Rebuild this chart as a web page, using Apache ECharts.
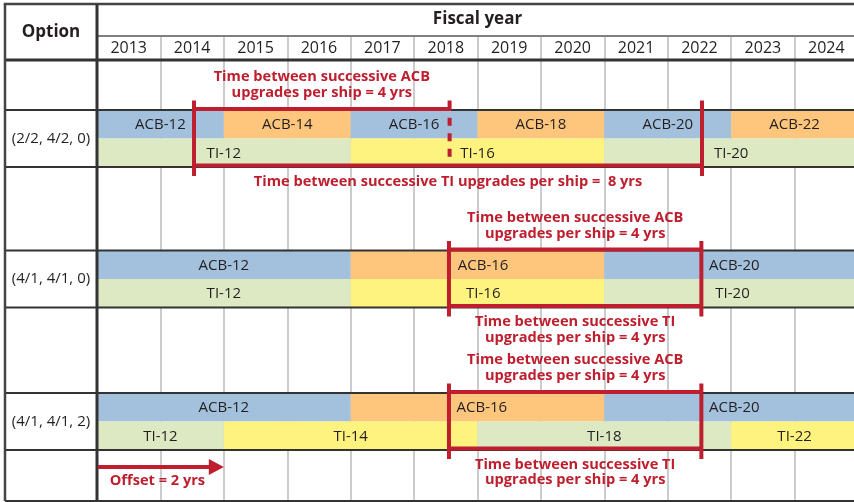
<!DOCTYPE html>
<html><head><meta charset="utf-8">
<script src="https://cdn.jsdelivr.net/npm/echarts@6/dist/echarts.min.js"></script>
<style>html,body{margin:0;padding:0;background:#fff}#c{width:854px;height:502px}</style>
</head><body><div id="c"></div>
<script>
// ---- data ----
const years = ['2013','2014','2015','2016','2017','2018','2019','2020','2021','2022','2023','2024'];
const options = ['(2/2, 4/2, 0)', '(4/1, 4/1, 0)', '(4/1, 4/1, 2)'];
const acbStarts = [[2013,2015,2017,2019,2021,2023],[2013,2017,2021],[2013,2017,2021]];
const acbNames = [['ACB-12','ACB-14','ACB-16','ACB-18','ACB-20','ACB-22'],['ACB-12','ACB-16','ACB-20'],['ACB-12','ACB-16','ACB-20']];
const acbLabelAt = [[null,null,null,null,null,null],[null,2018.69,2022.65],[null,2018.67,2022.65]];
const tiStarts = [[2013,2017,2021],[2013,2017,2021],[2013,2015,2019,2023]];
const tiNames = [['TI-12','TI-16','TI-20'],['TI-12','TI-16','TI-20'],['TI-12','TI-14','TI-18','TI-22']];
const tiLabelAt = [[null,null,null],[null,2018.82,2022.75],[null,null,null,null]];
const acbSpan = [[2014.53,2018.56],[2018.55,2022.53],[2018.55,2022.53]];
const tiSpan = [[2014.53,2022.54],[2018.55,2022.53],[2018.55,2022.53]];
const acbNotes = ['Time between successive ACB\nupgrades per ship = 4 yrs','Time between successive ACB\nupgrades per ship = 4 yrs','Time between successive ACB\nupgrades per ship = 4 yrs'];
const tiNotes = ['Time between successive TI upgrades per ship =  8 yrs','Time between successive TI\nupgrades per ship = 4 yrs','Time between successive TI\nupgrades per ship = 4 yrs'];
const offsetYears = [0, 0, 2];
const offsetNote = 'Offset = 2 yrs';
const END_YEAR = 2025;

// ---- layout / style ----
const ROW_TOP = [50, 190.5, 333];
const BAR_H = 28.5;
const BODY_H = 441;
const FRAME_Y = [0, 50, 107, 190.5, 247.5, 333, 390, 441];
const FONT = '"Open Sans", "Noto Sans", sans-serif';
const TXT = '#231f20';
const RED = '#be1e2d';
const COLORS = [['#a3c1dc','#fec57c'],['#dce9c3','#fff380']];
const GRID_L = '#cccccc';
const DARK = '#333333';
const NOTE_FS = 14.6;

const segData = [], segMeta = [];
options.forEach((o, i) => {
  [[acbStarts, acbNames, acbLabelAt],[tiStarts, tiNames, tiLabelAt]].forEach(([st, nm, la], lane) => {
    st[i].forEach((s, k) => {
      const e = k + 1 < st[i].length ? st[i][k + 1] : END_YEAR;
      segData.push([s, ROW_TOP[i] + lane * BAR_H, e]);
      segMeta.push({opt: i, lane, k, name: nm[i][k], labelAt: la[i][k]});
    });
  });
});

function renderBar(params, api) {
  const m = segMeta[params.dataIndex];
  const top = api.value(1);
  const p0 = api.coord([api.value(0), top]);
  const p1 = api.coord([api.value(2), top + BAR_H]);
  const ch = [{type:'rect', shape:{x:p0[0], y:p0[1], width:p1[0]-p0[0], height:p1[1]-p0[1]}, style:{fill:COLORS[m.lane][m.k % 2]}}];
  let tx, align;
  if (m.labelAt == null) { tx = (p0[0] + p1[0]) / 2; align = 'center'; }
  else { tx = api.coord([m.labelAt, top])[0]; align = 'left'; }
  ch.push({type:'text', style:{text:m.name, x:tx, y:(p0[1]+p1[1])/2 + 0.5, align, verticalAlign:'middle', fontSize:15, fontFamily:FONT, fill:TXT}});
  return {type:'group', children:ch};
}

function renderFrame(params, api) {
  const cs = params.coordSys;
  const L = cs.x - 92, R = cs.x + cs.width, D = cs.x;
  const Y = v => api.coord([2013, v])[1];
  const ch = [];
  const ln = (x1,y1,x2,y2,c,w) => ch.push({type:'line', shape:{x1,y1,x2,y2}, style:{stroke:c, lineWidth:w}});
  FRAME_Y.forEach((v, j) => ln(L, Y(v), R, Y(v), DARK, j === 0 ? 3 : 2));
  ln(D, cs.y - 24, R, cs.y - 24, '#808080', 2);
  ln(L - 1.25, cs.y - 56, R, cs.y - 56, '#444', 2.5);
  ln(L, cs.y - 56, L, Y(BODY_H), '#444', 2.5);
  ln(D, cs.y - 56, D, Y(BODY_H), DARK, 3);
  ch.push({type:'text', style:{text:'Option', x:(L + D)/2, y:cs.y - 28, align:'center', verticalAlign:'middle', fontSize:17, fontWeight:'bold', fontFamily:FONT, fill:TXT}});
  ch.push({type:'text', style:{text:'Fiscal year', x:(D + R)/2, y:cs.y - 41, align:'center', verticalAlign:'middle', fontSize:17, fontWeight:'bold', fontFamily:FONT, fill:TXT}});
  options.forEach((o, i) => {
    ch.push({type:'text', style:{text:o, x:(L + D)/2, y:Y(ROW_TOP[i] + BAR_H), align:'center', verticalAlign:'middle', fontSize:15, fontFamily:FONT, fill:TXT}});
  });
  return {type:'group', children:ch};
}

function renderBracket(params, api) {
  const i = params.dataIndex;
  const top = ROW_TOP[i], bot = top + 2 * BAR_H;
  const X = v => api.coord([v, 0])[0];
  const Y = v => api.coord([2013, v])[1];
  const ch = [];
  const ln = (x1,y1,x2,y2,dash) => ch.push({type:'line', shape:{x1,y1,x2,y2}, style:{stroke:RED, lineWidth:4, lineDash:dash || null}});
  const [a0, a1] = acbSpan[i], [t0, t1] = tiSpan[i];
  ln(X(a0), Y(top - 1), X(a1), Y(top - 1));
  ln(X(t0), Y(bot - 1.5), X(t1), Y(bot - 1.5));
  const ends = [];
  [a0, a1, t0, t1].forEach(v => { if (!ends.some(e => Math.abs(e - v) < 0.05)) ends.push(v); });
  ends.forEach(v => {
    const isTi = Math.abs(v - t0) < 0.05 || Math.abs(v - t1) < 0.05;
    if (isTi) ln(X(v), Y(top - 9.5), X(v), Y(bot + 9));
    else { ln(X(v), Y(top - 9.5), X(v), Y(top + 1)); ln(X(v), Y(top + 7.7), X(v), Y(bot - 10.3), [8, 7.5]); }
  });
  const noteStyle = {align:'center', verticalAlign:'middle', fontSize:NOTE_FS, fontWeight:'bold', fontFamily:FONT, fill:RED};
  acbNotes[i].split('\n').forEach((t, j, arr) => {
    ch.push({type:'text', style:Object.assign({text:t, x:X((a0 + a1)/2), y:Y(top - 17 - (arr.length - 1 - j) * 15.7)}, noteStyle)});
  });
  tiNotes[i].split('\n').forEach((t, j) => {
    ch.push({type:'text', style:Object.assign({text:t, x:X((t0 + t1)/2), y:Y(bot + 14.5 + j * 15.5)}, noteStyle)});
  });
  if (offsetYears[i] > 0) {
    const xs = X(2013) + 1, xe = X(2013 + offsetYears[i]), ya = Y(bot + 17);
    ln(xs, ya, xe - 14, ya);
    ch.push({type:'polygon', shape:{points:[[xe, ya], [xe - 15, ya - 8], [xe - 15, ya + 8]]}, style:{fill:RED}});
    ch.push({type:'text', style:Object.assign({}, noteStyle, {text:offsetNote, x:X(2013 + offsetYears[i]/2) - 3, y:Y(bot + 31.3)})});
  }
  return {type:'group', children:ch};
}

const chart = echarts.init(document.getElementById('c'), null, {renderer:'canvas'});
chart.setOption({
  animation: false,
  backgroundColor: '#fff',
  grid: {left: 97, width: 761, top: 60, height: BODY_H, containLabel: false, outerBoundsMode: 'none'},
  xAxis: [
    {type:'value', min:2013, max:END_YEAR, interval:1, axisLine:{show:false}, axisTick:{show:false}, axisLabel:{show:false},
     splitLine:{show:true, lineStyle:{color:GRID_L, width:2}}},
    {type:'category', data:years, position:'top', boundaryGap:true, axisLine:{show:false},
     axisTick:{show:true, interval:0, length:24, lineStyle:{color:GRID_L, width:2}},
     axisLabel:{fontSize:16, color:TXT, fontFamily:FONT, margin:4, interval:0}}
  ],
  yAxis: {type:'value', min:0, max:BODY_H, inverse:true, show:false},
  series: [
    {type:'custom', name:'bars', xAxisIndex:0, renderItem:renderBar, data:segData, encode:{x:[0,2], y:1}, silent:true},
    {type:'custom', name:'frame', xAxisIndex:0, renderItem:renderFrame, data:[[2013, 0]], silent:true},
    {type:'custom', name:'brackets', xAxisIndex:0, renderItem:renderBracket, data:acbSpan.map((s, i) => [s[0], ROW_TOP[i]]), silent:true}
  ]
});
</script></body></html>
